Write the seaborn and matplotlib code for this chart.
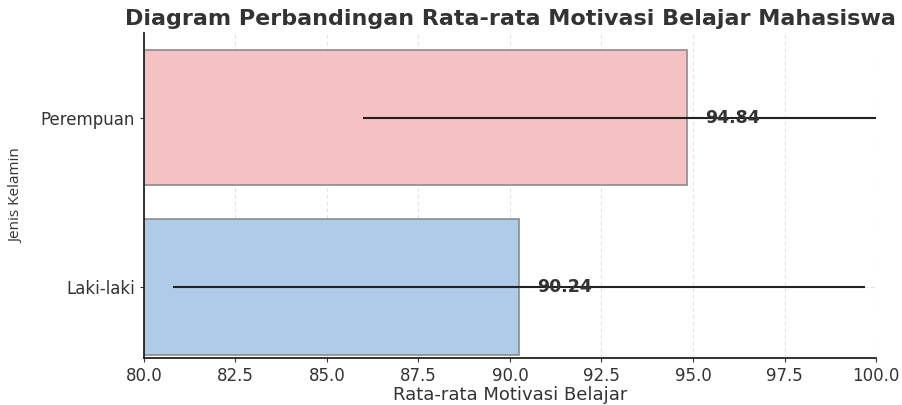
import numpy as np
import pandas as pd
import matplotlib
matplotlib.use('Agg')
import matplotlib.pyplot as plt
import seaborn as sns

# data
groups = ['Perempuan', 'Laki-laki']
means = [94.84, 90.24]
stds = [8.86, 9.45]
colors = ['#F4C2C2', '#AECBE8']

df = pd.DataFrame({'Jenis Kelamin': groups, 'Rata-rata': means})

sns.set_style('whitegrid')
plt.rcParams['font.family'] = ['DejaVu Sans']

fig = plt.figure(figsize=(9.02, 4.05), dpi=100)
ax = fig.add_axes([0.1596, 0.116, 0.8116, 0.8025])

sns.barplot(data=df, y='Jenis Kelamin', x='Rata-rata', hue='Jenis Kelamin',
            palette=colors, saturation=1, errorbar=None, width=0.8,
            edgecolor='#8c8c8c', linewidth=1.2, legend=False, ax=ax)

# std error bars (no caps)
ax.errorbar(means, range(len(groups)), xerr=stds, fmt='none',
            ecolor='#222222', elinewidth=1.5, capsize=0, zorder=3)

# value labels
for i, v in enumerate(means):
    ax.text(v + 0.5, i, f'{v:.2f}', ha='left', va='center',
            fontsize=12.5, fontweight='bold', color='#333333', zorder=4)

ax.set_xlim(80, 100)
ax.set_ylim(1.42, -0.5)
ax.set_xticks(np.arange(80, 100.1, 2.5))
ax.set_xticklabels([f'{t:.1f}' for t in np.arange(80, 100.1, 2.5)])

ax.grid(True, linestyle=(0, (3, 3)), color='#e0e0e0', linewidth=0.8)
ax.set_axisbelow(True)
for s in ['top', 'right']:
    ax.spines[s].set_visible(False)
for s in ['left', 'bottom']:
    ax.spines[s].set_color('#222222')
    ax.spines[s].set_linewidth(1.3)
ax.tick_params(axis='both', colors='#333333', labelsize=12, length=3,
               bottom=True, left=True, labelcolor='#333333')

ax.set_title('Diagram Perbandingan Rata-rata Motivasi Belajar Mahasiswa',
             fontsize=16, fontweight='bold', color='#333333', pad=6)
ax.set_xlabel('Rata-rata Motivasi Belajar', fontsize=13, color='#333333', labelpad=1)
ax.set_ylabel('Jenis Kelamin', fontsize=11, color='#333333',
              family=['Open Sans', 'DejaVu Sans'], labelpad=12)

fig.savefig('out.png', dpi=100)
